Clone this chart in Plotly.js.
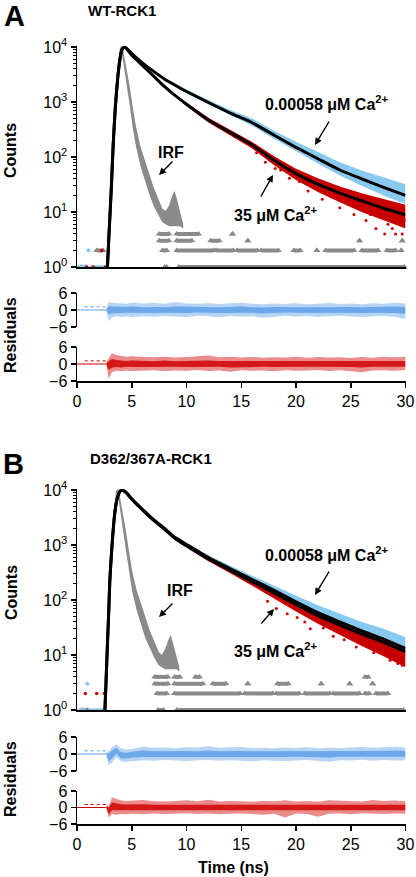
<!DOCTYPE html>
<html><head><meta charset="utf-8">
<script src="https://cdn.plot.ly/plotly-3.0.1.min.js"></script>
<style>html,body{margin:0;padding:0;background:#fff}#chart{width:416px;height:877px}</style>
</head><body><div id="chart"></div>
<script>
// ---------------- DATA ----------------
// Panel A (WT-RCK1) – fits, counts vs time (ns)
const tFitA   = [2.78, 2.9, 3.0, 3.15, 3.3, 3.5, 3.7, 3.9, 4.1, 4.35, 5, 6, 7, 8, 9, 10, 12, 14, 16, 18, 20, 22, 24, 26, 28, 30];
const fitBlueA = [1, 3.2, 8, 32, 160, 800, 2500, 5600, 8900, 10000, 7600, 5100, 3600, 2600, 2000, 1550, 980, 630, 420, 250, 150, 93, 58, 40, 28, 20];
const fitRedA  = [1, 3.2, 8, 32, 160, 800, 2500, 5600, 8900, 10000, 7100, 4600, 2950, 1900, 1290, 910, 470, 280, 165, 87, 50, 32, 22, 16, 11.7, 8.9];
const blueHiA  = [1.5, 6, 16, 60, 280, 1250, 3500, 7000, 9800, 10400, 7950, 5380, 3800, 2770, 2150, 1690, 1090, 715, 500, 300, 190, 122, 80, 57, 42, 32];
const blueLoA  = [1, 1.6, 4, 15, 80, 450, 1700, 4400, 8000, 9600, 7250, 4870, 3420, 2460, 1880, 1450, 900, 570, 370, 215, 127, 76, 46, 30, 20, 14];
const tRedA    = [4.1, 4.35, 5, 6, 7, 8, 9, 10, 12, 14, 16, 18, 20, 22, 24, 26, 28, 30];
const redHiA   = [9200, 10200, 7400, 4820, 3100, 2010, 1370, 975, 515, 312, 188, 103, 61, 41, 29, 22, 17, 13.5];
const redLoA   = [8500, 9700, 6820, 4400, 2810, 1800, 1210, 845, 425, 248, 142, 71, 38, 23, 15, 10, 7, 5];
const redOutTA = [16.4, 17.2, 18.1, 18.6, 19.4, 20.3, 21.1, 21.8, 22.4, 23.2, 24.0, 24.7, 25.3, 25.9, 26.4, 26.8, 27.3, 27.7, 28.1, 28.4, 28.8, 29.1, 29.4, 29.7, 29.9];
const redOutYA = [120, 80, 62, 58, 41, 36, 24, 27, 17, 19, 12, 14, 9, 11, 7, 9, 5, 8, 4, 6, 5, 4, 6, 4, 7];
const preBlueTA = [0.15, 0.35, 0.55, 0.8, 1.05, 1.3, 1.55, 1.8, 2.05, 2.3, 2.55];
const preBlueYA = [1, 1, 1, 1, 2, 1, 1, 1, 1, 1, 1];
const preRedTA  = [0.9, 1.5, 2.25, 2.6];
const preRedYA  = [1, 1, 2, 1];
// IRF A
const tIrfA  = [2.9, 3.1, 3.3, 3.5, 3.7, 3.9, 4.05, 4.2, 4.5, 4.8, 5.1, 5.4, 5.8, 6.2, 6.6, 7.0, 7.4, 7.8, 8.1, 8.4, 8.7, 8.9, 9.1, 9.4, 9.7];
const irfHiA = [4, 20, 160, 1000, 4000, 9300, 10500, 9000, 4500, 2000, 780, 350, 155, 88, 50, 28, 18, 11.5, 10.5, 13, 20, 24, 18, 10, 6];
const irfLoA = [2, 8, 63, 500, 2800, 7900, 9100, 5500, 2300, 900, 330, 150, 68, 38, 21, 13, 9, 6.5, 6, 5.5, 5.5, 5.5, 5.5, 5.5, 5];
const irfRow1A = [[0.4, 0.8], [8.0, 8.2], [9.3, 29.9]];
const irfRow2A = [[1.8, 2.4], [7.8, 8.2], [9.1, 12.5], [12.7, 14.3], [14.6, 16.5], [16.8, 18.4], [19.8, 20.4], [21.9, 21.9], [22.7, 25.3], [26.0, 27.5], [28.3, 29.1], [29.6, 29.6]];
const irfRow3A = [[7.5, 8.4], [9.1, 10.5], [12.2, 13.0], [15.6, 15.6], [25.8, 25.8], [29.7, 29.7]];
const irfRow4A = [[7.5, 8.4], [9.1, 11.1], [14.2, 14.2]];

// Panel B (D362/367A-RCK1)
const tFitB    = [2.55, 2.65, 2.77, 2.9, 3.0, 3.2, 3.45, 3.7, 3.9, 4.1, 4.5, 5, 6, 7, 8, 9, 10, 12, 14, 16, 18, 20, 22, 24, 26, 28, 30];
const fitBlueB = [1, 3.2, 14, 63, 230, 1000, 3800, 7400, 9300, 10000, 9000, 6900, 4400, 2880, 2000, 1350, 1020, 590, 370, 235, 150, 93, 59, 40, 27.5, 19.5, 13.2];
const fitRedB  = [1, 3.2, 14, 63, 230, 1000, 3800, 7400, 9300, 10000, 8900, 6800, 4300, 2800, 1930, 1300, 970, 555, 345, 215, 135, 83, 52, 35, 24, 17, 11.5];
const blueHiB  = [1.6, 8, 35, 150, 500, 1800, 5200, 8600, 9900, 10400, 9400, 7200, 4600, 3020, 2110, 1440, 1100, 650, 420, 275, 183, 120, 80, 56, 40, 30, 21];
const blueLoB  = [1, 1.8, 6, 28, 110, 550, 2600, 6200, 8600, 9600, 8650, 6600, 4220, 2760, 1900, 1280, 960, 545, 335, 208, 128, 77, 47, 31, 20, 13.5, 8.5];
const tRedB    = [4.1, 4.5, 5, 6, 7, 8, 9, 10, 12, 14, 16, 18, 20, 22, 24, 26, 28, 30];
const redHiB   = [9700, 9100, 6950, 4400, 2860, 1980, 1330, 1000, 575, 360, 225, 142, 88, 56, 38, 26, 18.5, 12.5];
const redLoB   = [9300, 8600, 6550, 4150, 2680, 1830, 1220, 900, 505, 305, 182, 108, 62, 37, 23, 14.5, 9.5, 6];
const redOutTB = [17.4, 18.2, 19.2, 20.1, 20.8, 21.3, 22.5, 23.4, 24.4, 25.5, 26.3, 27.1, 27.9, 28.6, 29.3, 29.7];
const redOutYB = [95, 70, 56, 48, 40, 30, 31, 22, 19, 14, 15, 11, 12, 8, 7, 6.5];
const preBlueTB = [0.3, 0.6, 0.94, 1.2, 1.5, 1.8, 2.1, 2.35];
const preBlueYB = [1, 1, 3, 1, 1, 1, 1, 1];
const preRedTB  = [0.76, 1.8, 2.5];
const preRedYB  = [2, 2, 2];
const tIrfB  = [2.55, 2.75, 2.95, 3.15, 3.35, 3.55, 3.7, 3.85, 4.15, 4.45, 4.75, 5.05, 5.45, 5.85, 6.25, 6.65, 7.05, 7.45, 7.75, 8.05, 8.35, 8.55, 8.75, 9.05, 9.35];
const irfHiB = [4, 20, 170, 1050, 4200, 9400, 10500, 9000, 4400, 1900, 760, 330, 150, 86, 48, 28, 18, 11.5, 10, 13, 19, 23, 17, 10, 6];
const irfLoB = [2, 8, 65, 520, 2900, 8000, 9100, 5400, 2200, 850, 320, 140, 65, 36, 20, 13, 9, 6.5, 6, 5.5, 5.5, 5.5, 5.5, 5.5, 5];
const irfRow1B = [[0.5, 1.0], [7.4, 7.9], [9.1, 29.8]];
const irfRow2B = [[7.3, 8.2], [8.9, 14.9], [15.3, 17.9], [18.2, 20.3], [20.8, 23.1], [23.4, 25.8], [26.3, 26.7], [27.3, 28.4]];
const irfRow3B = [[7.1, 8.3], [8.9, 11.5], [12.4, 13.6], [15.6, 15.6], [18.3, 19.3], [22.3, 22.3], [24.9, 24.9], [27.0, 27.0]];
const irfRow4B = [[7.1, 8.3], [8.9, 9.4], [10.8, 11.2], [26.3, 26.6]];

// Residuals (envelopes of the scatter), common time grid
const resT = [2.7, 2.9, 3.2, 3.6, 4, 4.5, 5, 6, 7, 8, 9, 10, 11, 12, 13, 14, 15, 16, 17, 18, 19, 20, 21, 22, 23, 24, 25, 26, 27, 28, 29, 30];
const resBlueAHi = [0.8, 2.8, 2.6, 2.5, 2.4, 2.2, 2.6, 2.3, 2.5, 2.2, 2.8, 2.3, 2.2, 2.4, 2.1, 2.3, 2.6, 2.2, 2.0, 2.3, 2.1, 2.4, 2.0, 2.2, 2.5, 2.1, 2.3, 2.0, 2.4, 2.2, 2.6, 2.3];
const resBlueALo = [-0.8, -4.0, -2.6, -2.3, -2.4, -2.2, -2.5, -2.2, -2.4, -2.1, -2.3, -2.5, -2.0, -2.2, -2.6, -2.1, -2.3, -2.2, -2.7, -2.4, -2.0, -2.3, -2.1, -2.4, -2.2, -2.0, -2.3, -2.5, -2.2, -2.1, -2.4, -3.2];
const resBlueAInHi = [0.4, 1.3, 1.2, 1.1, 1.0, 1.1, 1.2, 1.0, 1.1, 1.0, 1.2, 1.1, 1.0, 1.1, 1.0, 1.1, 1.2, 1.0, 0.9, 1.1, 1.0, 1.1, 1.0, 1.0, 1.1, 1.0, 1.1, 1.0, 1.1, 1.0, 1.2, 1.1];
const resBlueAInLo = [-0.4, -1.5, -1.2, -1.1, -1.1, -1.0, -1.1, -1.0, -1.1, -1.0, -1.0, -1.1, -0.9, -1.0, -1.1, -1.0, -1.1, -1.0, -1.2, -1.1, -0.9, -1.0, -1.0, -1.1, -1.0, -0.9, -1.0, -1.1, -1.0, -1.0, -1.1, -1.3];
const resRedAHi = [0.8, 2.0, 3.8, 3.2, 2.8, 2.6, 2.7, 2.5, 2.4, 2.6, 2.3, 2.5, 2.8, 3.0, 2.4, 2.6, 2.3, 2.5, 2.2, 2.4, 2.3, 2.6, 2.2, 2.5, 2.3, 2.4, 2.1, 2.5, 2.2, 2.6, 2.4, 2.5];
const resRedALo = [-0.8, -5.2, -2.8, -2.4, -2.6, -2.3, -2.5, -2.4, -2.2, -2.5, -2.3, -2.4, -2.1, -2.5, -2.3, -2.7, -2.2, -2.4, -2.3, -2.6, -2.2, -2.4, -2.3, -2.1, -2.5, -2.2, -2.6, -2.9, -2.3, -2.2, -2.4, -2.1];
const resRedAInHi = [0.4, 1.0, 1.8, 1.4, 1.2, 1.1, 1.2, 1.1, 1.0, 1.2, 1.0, 1.1, 1.2, 1.2, 1.1, 1.1, 1.0, 1.1, 1.0, 1.1, 1.0, 1.1, 1.0, 1.1, 1.0, 1.1, 1.0, 1.1, 1.0, 1.2, 1.1, 1.1];
const resRedAInLo = [-0.4, -2.0, -1.3, -1.1, -1.2, -1.0, -1.1, -1.1, -1.0, -1.1, -1.0, -1.1, -1.0, -1.1, -1.0, -1.2, -1.0, -1.1, -1.0, -1.1, -1.0, -1.1, -1.0, -1.0, -1.1, -1.0, -1.1, -1.2, -1.0, -1.0, -1.1, -1.0];
const resBlueBHi = [0.8, 1.0, 2.4, 3.4, 2.0, 1.6, 1.8, 2.6, 2.2, 2.3, 2.0, 2.4, 2.3, 2.7, 2.2, 2.4, 2.5, 2.1, 2.2, 2.0, 2.3, 2.1, 2.4, 2.0, 2.2, 2.1, 2.3, 2.5, 2.2, 2.4, 2.6, 2.3];
const resBlueBLo = [-0.8, -3.9, -3.0, -1.0, -2.6, -2.8, -2.6, -2.2, -2.4, -2.1, -2.3, -2.5, -2.2, -2.1, -2.4, -2.2, -2.3, -2.6, -2.2, -2.4, -2.5, -2.3, -2.1, -2.4, -2.7, -2.2, -2.3, -2.0, -2.4, -2.1, -2.3, -2.2];
const resBlueBInHi = [0.4, 0.2, 1.2, 2.2, 0.6, 0.4, 0.8, 1.2, 1.0, 1.1, 1.0, 1.1, 1.0, 1.2, 1.0, 1.1, 1.1, 1.0, 1.0, 0.9, 1.0, 1.0, 1.1, 1.0, 1.0, 1.0, 1.1, 1.1, 1.0, 1.1, 1.2, 1.1];
const resBlueBInLo = [-0.4, -2.6, -1.6, 0.2, -1.6, -1.6, -1.3, -1.1, -1.1, -1.0, -1.0, -1.1, -1.0, -1.0, -1.1, -1.0, -1.1, -1.1, -1.0, -1.1, -1.1, -1.0, -1.0, -1.1, -1.2, -1.0, -1.0, -0.9, -1.1, -1.0, -1.0, -1.0];
const resRedBHi = [0.8, 0.5, 3.6, 3.0, 2.6, 2.4, 2.5, 2.7, 2.3, 2.2, 2.4, 2.6, 2.3, 2.8, 2.2, 2.4, 2.3, 2.1, 2.4, 2.3, 2.6, 2.2, 2.4, 2.1, 2.6, 2.4, 2.3, 2.2, 2.7, 2.4, 2.5, 2.3];
const resRedBLo = [-0.8, -3.6, -2.4, -2.6, -2.4, -2.5, -2.3, -2.5, -2.2, -2.4, -2.3, -2.1, -2.4, -2.2, -2.5, -2.3, -2.2, -2.4, -2.6, -2.3, -3.6, -2.2, -2.4, -3.4, -2.3, -2.2, -2.5, -2.1, -2.3, -2.4, -2.2, -2.3];
const resRedBInHi = [0.4, 0.0, 1.8, 1.4, 1.2, 1.1, 1.2, 1.2, 1.0, 1.0, 1.1, 1.2, 1.0, 1.2, 1.0, 1.1, 1.0, 1.0, 1.1, 1.0, 1.1, 1.0, 1.1, 1.0, 1.2, 1.1, 1.0, 1.0, 1.2, 1.1, 1.1, 1.0];
const resRedBInLo = [-0.4, -2.4, -1.0, -1.2, -1.1, -1.1, -1.0, -1.1, -1.0, -1.1, -1.0, -1.0, -1.1, -1.0, -1.1, -1.0, -1.0, -1.1, -1.1, -1.0, -1.2, -1.0, -1.1, -1.2, -1.0, -1.0, -1.1, -1.0, -1.0, -1.1, -1.0, -1.0];
const resPreT = [0, 2.7], resPreY = [0, 0];
const resDashT = [0.7, 2.7], resDashY = [1.1, 1.1];

const yTickVals = [1, 10, 100, 1000, 10000];
const yTickText = ['10<sup>0</sup>', '10<sup>1</sup>', '10<sup>2</sup>', '10<sup>3</sup>', '10<sup>4</sup>'];
const resTickVals = [-6, 0, 6];
const xTickVals = [0, 5, 10, 15, 20, 25, 30];

// ---------------- STYLE ----------------
const FONT = 'Liberation Sans, Arial, Helvetica, sans-serif';
const W = 416, H = 877;
const BLUE = '#88c9ef', RED = '#c80000', GRAY = '#8a8a8a';
const RBLUE_OUT = 'rgba(110,170,235,0.5)', RBLUE_IN = 'rgba(100,162,232,0.9)';
const RRED_OUT = 'rgba(215,25,25,0.5)', RRED_IN = 'rgba(210,10,10,0.9)';
const pxX = v => v / W, pxY = v => 1 - v / H;

function band(t, hi, lo, xa, ya, color) {
  const x = t.concat(t.slice().reverse());
  const y = hi.concat(lo.slice().reverse());
  return {type: 'scatter', mode: 'lines', x: x, y: y, xaxis: xa, yaxis: ya,
    fill: 'toself', fillcolor: color, line: {width: 0, color: color}, hoverinfo: 'skip'};
}
function curve(t, y, xa, ya, color, width, dash, shape) {
  return {type: 'scatter', mode: 'lines', x: t, y: y, xaxis: xa, yaxis: ya,
    line: {color: color, width: width, dash: dash || 'solid', shape: shape || 'linear', smoothing: 0.6}, hoverinfo: 'skip'};
}
function pts(t, y, xa, ya, color, size, symbol) {
  return {type: 'scatter', mode: 'markers', x: t, y: y, xaxis: xa, yaxis: ya, cliponaxis: false,
    marker: {color: color, size: size, symbol: symbol || 'circle', line: {width: 0}}, hoverinfo: 'skip'};
}
function rows(segs, level, xa, ya) {
  const x = [], y = [];
  segs.forEach(s => { x.push(s[0], s[1], null); y.push(level, level, null); });
  return {type: 'scatter', mode: 'lines+markers', x: x, y: y, xaxis: xa, yaxis: ya, cliponaxis: false,
    line: {color: GRAY, width: 4}, marker: {symbol: 'triangle-up', size: 6, color: GRAY, line: {width: 0}}, hoverinfo: 'skip'};
}

function mainPanel(xa, ya, d) {
  return [
    band(d.tIrf, d.irfHi, d.irfLo, xa, ya, GRAY),
    rows(d.r1, 1, xa, ya), rows(d.r2, 2, xa, ya), rows(d.r3, 3, xa, ya), rows(d.r4, 4, xa, ya),
    pts(d.pbT, d.pbY, xa, ya, BLUE, 4),
    band(d.tFit, d.bHi, d.bLo, xa, ya, BLUE),
    pts(d.prT, d.prY, xa, ya, RED, 3.5),
    band(d.tRed, d.rHi, d.rLo, xa, ya, RED),
    pts(d.roT, d.roY, xa, ya, RED, 3),
    curve(d.tFit, d.fB, xa, ya, '#000', 3, null, 'spline'),
    curve(d.tFit, d.fR, xa, ya, '#000', 3, null, 'spline')
  ];
}
function resPanel(xa, ya, hi, lo, inHi, inLo, cOut, cIn, cLine) {
  return [
    curve(resPreT, resPreY, xa, ya, cLine, 1),
    curve(resDashT, resDashY, xa, ya, cLine, 1, '3px,3px'),
    band(resT, hi, lo, xa, ya, cOut),
    band(resT, inHi, inLo, xa, ya, cIn)
  ];
}

const traces = [].concat(
  mainPanel('x', 'y', {tIrf: tIrfA, irfHi: irfHiA, irfLo: irfLoA, r1: irfRow1A, r2: irfRow2A, r3: irfRow3A, r4: irfRow4A,
    pbT: preBlueTA, pbY: preBlueYA, prT: preRedTA, prY: preRedYA, tFit: tFitA, bHi: blueHiA, bLo: blueLoA,
    tRed: tRedA, rHi: redHiA, rLo: redLoA, roT: redOutTA, roY: redOutYA, fB: fitBlueA, fR: fitRedA}),
  resPanel('x2', 'y2', resBlueAHi, resBlueALo, resBlueAInHi, resBlueAInLo, RBLUE_OUT, RBLUE_IN, '#5e9fe4'),
  resPanel('x3', 'y3', resRedAHi, resRedALo, resRedAInHi, resRedAInLo, RRED_OUT, RRED_IN, '#cc0000'),
  mainPanel('x4', 'y4', {tIrf: tIrfB, irfHi: irfHiB, irfLo: irfLoB, r1: irfRow1B, r2: irfRow2B, r3: irfRow3B, r4: irfRow4B,
    pbT: preBlueTB, pbY: preBlueYB, prT: preRedTB, prY: preRedYB, tFit: tFitB, bHi: blueHiB, bLo: blueLoB,
    tRed: tRedB, rHi: redHiB, rLo: redLoB, roT: redOutTB, roY: redOutYB, fB: fitBlueB, fR: fitRedB}),
  resPanel('x5', 'y5', resBlueBHi, resBlueBLo, resBlueBInHi, resBlueBInLo, RBLUE_OUT, RBLUE_IN, '#5e9fe4'),
  resPanel('x6', 'y6', resRedBHi, resRedBLo, resRedBInHi, resRedBInLo, RRED_OUT, RRED_IN, '#cc0000')
);

// ---------------- LAYOUT ----------------
const XD = [pxX(77), pxX(405.5)];
const minorLog = [];
for (let d = 0; d < 4; d++) for (let m = 2; m <= 9; m++) minorLog.push(m * Math.pow(10, d));
const tickFont = {family: FONT, size: 16, color: '#000'};

function xMain(anchor) {
  return {domain: XD, anchor: anchor, range: [0, 30], showline: true, linecolor: '#000', linewidth: 1.5,
    ticks: '', showticklabels: false, showgrid: false, zeroline: false, fixedrange: true};
}
function xHidden(anchor) {
  return {domain: XD, anchor: anchor, range: [0, 30], visible: false, fixedrange: true};
}
function xBottom(anchor) {
  return {domain: XD, anchor: anchor, range: [0, 30], showline: true, linecolor: '#000', linewidth: 1.5,
    ticks: 'outside', ticklen: 5, tickwidth: 1.5, tickcolor: '#000', tickmode: 'array', tickvals: xTickVals,
    tickfont: tickFont, showgrid: false, zeroline: false, fixedrange: true};
}
function yLog(anchor, bottomPx) {
  const top = bottomPx - 4.02 * 55;
  return {domain: [pxY(bottomPx), pxY(top)], anchor: anchor, type: 'log', range: [0, 4.02],
    showline: true, linecolor: '#000', linewidth: 1.5, ticks: 'outside', ticklen: 5, tickwidth: 1.5, tickcolor: '#000',
    tickmode: 'array', tickvals: yTickVals, ticktext: yTickText, tickfont: tickFont,
    minor: {tickmode: 'array', tickvals: minorLog, ticks: 'outside', ticklen: 3, tickwidth: 1, tickcolor: '#000', showgrid: false},
    showgrid: false, zeroline: false, fixedrange: true};
}
function yRes(anchor, topPx, bottomPx) {
  return {domain: [pxY(bottomPx), pxY(topPx)], anchor: anchor, range: [-6, 6],
    showline: true, linecolor: '#000', linewidth: 1.5, ticks: 'outside', ticklen: 5, tickwidth: 1.5, tickcolor: '#000',
    tickmode: 'array', tickvals: resTickVals, tickfont: tickFont, showgrid: false, zeroline: false, fixedrange: true};
}

function label(text, x, y, size, extra) {
  return Object.assign({text: text, xref: 'paper', yref: 'paper', x: pxX(x), y: pxY(y), xanchor: 'center', yanchor: 'middle',
    showarrow: false, font: {family: FONT, size: size, color: '#000'}}, extra || {});
}
function arrow(tipX, tipY, tailX, tailY) {
  return {text: '', xref: 'paper', yref: 'paper', x: pxX(tipX), y: pxY(tipY), ax: tailX - tipX, ay: tailY - tipY,
    showarrow: true, arrowhead: 2, arrowsize: 1, arrowwidth: 1.4, arrowcolor: '#000'};
}

const annotations = [
  label('<b>A</b>', 14, 16, 29),
  label('<b>WT-RCK1</b>', 122, 11, 15),
  label('<b>0.00058 μM Ca<sup>2+</sup></b>', 327, 103, 16),
  arrow(315, 145, 330, 120),
  label('<b>35 μM Ca<sup>2+</sup></b>', 275, 214, 16),
  arrow(273, 175, 260, 198),
  label('<b>IRF</b>', 171, 152, 16),
  arrow(159, 175, 174, 160),
  label('<b>Counts</b>', 11, 151, 16, {textangle: -90}),
  label('<b>Residuals</b>', 10, 335, 16, {textangle: -90}),

  label('<b>B</b>', 13, 464, 29),
  label('<b>D362/367A-RCK1</b>', 151, 459, 15),
  label('<b>0.00058 μM Ca<sup>2+</sup></b>', 327, 554, 16),
  arrow(315, 595, 330, 570),
  label('<b>35 μM Ca<sup>2+</sup></b>', 275, 650, 16),
  arrow(274, 609, 260, 625),
  label('<b>IRF</b>', 180, 590, 16),
  arrow(159, 617, 174, 602),
  label('<b>Counts</b>', 11, 593, 16, {textangle: -90}),
  label('<b>Residuals</b>', 10, 779, 16, {textangle: -90}),
  label('<b>Time (ns)</b>', 233, 867, 16)
];

const layout = {
  width: W, height: H, margin: {l: 0, r: 0, t: 0, b: 0}, paper_bgcolor: '#fff', plot_bgcolor: 'rgba(0,0,0,0)',
  showlegend: false, font: {family: FONT, color: '#000'},
  xaxis: xMain('y'), yaxis: yLog('x', 267),
  xaxis2: xHidden('y2'), yaxis2: yRes('x2', 293, 327),
  xaxis3: xBottom('y3'), yaxis3: yRes('x3', 347, 381),
  xaxis4: xMain('y4'), yaxis4: yLog('x4', 710),
  xaxis5: xHidden('y5'), yaxis5: yRes('x5', 737, 771),
  xaxis6: xBottom('y6'), yaxis6: yRes('x6', 791, 824),
  annotations: annotations
};

Plotly.newPlot('chart', traces, layout, {staticPlot: true, displayModeBar: false});
</script></body></html>
